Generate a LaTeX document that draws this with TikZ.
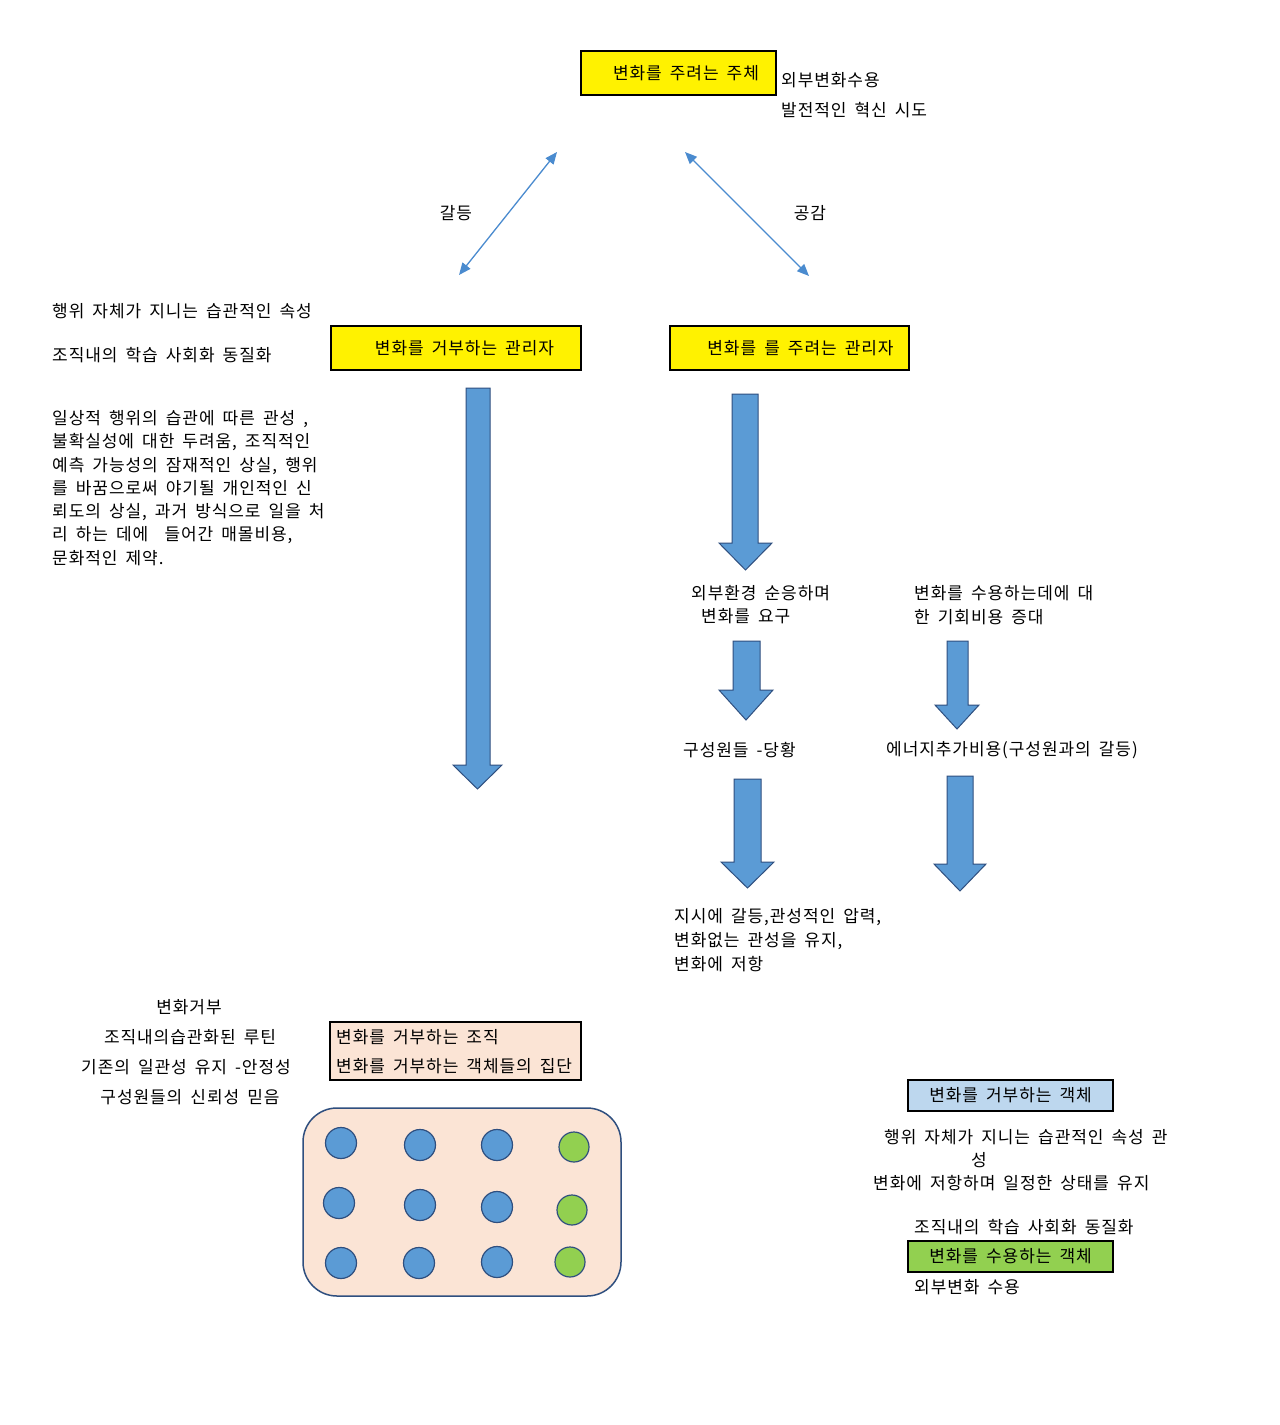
\documentclass[tikz,border=0pt]{standalone}
\usepackage{fontspec}
\newfontfamily\kr[LetterSpace=5.5,WordSpace=1.7]{Noto Sans CJK KR}
\usetikzlibrary{arrows.meta}
\definecolor{ablue}{HTML}{5B9BD5}
\definecolor{aline}{HTML}{2F4F7F}
\definecolor{lblue}{HTML}{4A8BCF}
\definecolor{peach}{HTML}{FBE4D5}
\definecolor{lgreen}{HTML}{92D050}
\definecolor{pblue}{HTML}{BDD7EE}
\newcommand\blockarr[7]{%
  \draw[barrow] (#1,#3) -- (#2,#3) -- (#2,#4) -- (#6,#4) -- ({(#5+#6)/2},#7) -- (#5,#4) -- (#1,#4) -- cycle;}
\begin{document}
\begin{tikzpicture}[x=1pt,y=-1pt,
  font=\kr\fontsize{17}{20}\selectfont,
  txt/.style={anchor=west,inner sep=0pt},
  ctxt/.style={anchor=center,inner sep=0pt},
  ybox/.style={draw=black,line width=2.5pt,fill=yellow,inner sep=0pt},
  pbox/.style={draw=black,line width=2.5pt,fill=peach,inner sep=0pt},
  bbox/.style={draw=black,line width=2.5pt,fill=pblue,inner sep=0pt},
  gbox/.style={draw=black,line width=2.5pt,fill=lgreen,inner sep=0pt},
  barrow/.style={draw=aline,line width=1pt,fill=ablue,line join=miter},
  larrow/.style={draw=lblue,line width=1.3pt,{Triangle[length=12pt,width=10pt]}-{Triangle[length=12pt,width=10pt]}},
  dot/.style={circle,draw=aline,line width=1.2pt,fill=ablue,minimum size=31pt,inner sep=0pt},
  gdot/.style={circle,draw=aline,line width=1.2pt,fill=lgreen,minimum size=30pt,inner sep=0pt}]
\useasboundingbox[fill=white] (0,0) rectangle (1280,1425);

% top
\node[ybox,minimum width=195pt,minimum height=44pt] (top) at (678.5,73) {\hspace*{15pt}변화를 주려는 주체};
\node[txt] (t1) at (781,80) {외부변화수용};
\node[txt] (t2) at (781,110) {발전적인 혁신 시도};

% diagonal arrows
\coordinate (c1) at (557,152);
\coordinate (c2) at (459,275);
\coordinate (c3) at (685,152);
\coordinate (c4) at (809,276);
\draw[larrow] (c1) -- (c2);
\draw[larrow] (c3) -- (c4);
\node[ctxt] (l1) at (456,213) {갈등};
\node[ctxt] (l2) at (810,213) {공감};

% managers
\node[txt] (a1) at (52,311) {행위 자체가 지니는 습관적인 속성};
\node[txt] (a2) at (52,355) {조직내의 학습 사회화 동질화};
\node[ybox,minimum width=250pt,minimum height=44pt] (mgl) at (456,348) {\hspace*{17pt}변화를 거부하는 관리자};
\node[ybox,minimum width=239pt,minimum height=44pt] (mgr) at (789.5,348) {\hspace*{22pt}변화를 를 주려는 관리자};

\node[txt,align=left,font=\kr\fontsize{17}{23.3}\selectfont] (para) at (52,488) {일상적 행위의 습관에 따른 관성 ,\\불확실성에 대한 두려움, 조직적인\\예측 가능성의 잠재적인 상실, 행위\\를 바꿈으로써 야기될 개인적인 신\\뢰도의 상실, 과거 방식으로 일을 처\\리 하는 데에 \ 들어간 매몰비용,\\문화적인 제약.};

% block arrows
\blockarr{466}{490}{388}{765}{453}{502}{789}
\blockarr{732}{758}{394}{543}{719}{772}{570}
\blockarr{733}{760}{641}{690}{719}{773}{720}
\blockarr{947}{968}{641}{705}{935}{979}{729}
\blockarr{734}{761}{779}{862}{721}{774}{888}
\blockarr{947}{973}{776}{864}{934}{986}{891}

\node[txt] (b1) at (691,593) {외부환경 순응하며};
\node[txt] (b2) at (701,616) {변화를 요구};
\node[txt] (b3) at (914,593) {변화를 수용하는데에 대};
\node[txt] (b4) at (914,617) {한 기회비용 증대};
\node[txt] (b5) at (683,750) {구성원들 -당황};
\node[txt] (b6) at (886,750) {에너지추가비용(구성원과의 갈등)};
\node[txt] (b7) at (674,917) {지시에 갈등,관성적인 압력,};
\node[txt] (b8) at (674,941) {변화없는 관성을 유지,};
\node[txt] (b9) at (674,964) {변화에 저항};

% bottom left
\node[ctxt] (d1) at (189,1007) {변화거부};
\node[ctxt] (d2) at (190,1037) {조직내의습관화된 루틴};
\node[ctxt] (d3) at (186,1067) {기존의 일관성 유지 -안정성};
\node[ctxt] (d4) at (190,1097) {구성원들의 신뢰성 믿음};

\node[pbox,minimum width=251pt,minimum height=58pt] (org) at (455.5,1051) {};
\node[txt] (o1) at (336,1037) {변화를 거부하는 조직};
\node[txt] (o2) at (336,1066) {변화를 거부하는 객체들의 집단};

\draw[draw=aline,line width=1.5pt,fill=peach,rounded corners=34pt] (303,1108) rectangle (621,1296);
\node[dot] (p11) at (341,1143) {};
\node[dot] (p12) at (420,1145) {};
\node[dot] (p13) at (497,1145) {};
\node[gdot] (p14) at (574,1147) {};
\node[dot] (p21) at (339,1203) {};
\node[dot] (p22) at (420,1205) {};
\node[dot] (p23) at (497,1207) {};
\node[gdot] (p24) at (572,1210) {};
\node[dot] (p31) at (341,1263) {};
\node[dot] (p32) at (419,1263) {};
\node[dot] (p33) at (497,1262) {};
\node[gdot] (p34) at (570,1262) {};

% bottom right
\node[bbox,minimum width=205pt,minimum height=31pt] (obj1) at (1010.5,1095.5) {변화를 거부하는 객체};
\node[txt] (e1) at (884,1137) {행위 자체가 지니는 습관적인 속성 관};
\node[ctxt] (e2) at (979,1160) {성};
\node[txt] (e3) at (873,1183) {변화에 저항하며 일정한 상태를 유지};
\node[txt] (e4) at (914,1227) {조직내의 학습 사회화 동질화};
\node[gbox,minimum width=205pt,minimum height=31pt] (obj2) at (1010.5,1256.5) {변화를 수용하는 객체};
\node[txt] (e5) at (914,1287) {외부변화 수용};
\end{tikzpicture}
\end{document}
